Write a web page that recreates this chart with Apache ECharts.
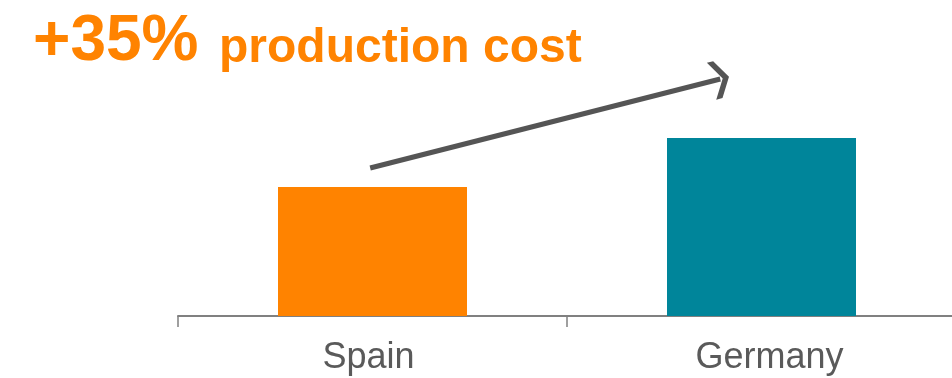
<!DOCTYPE html>
<html>
<head>
<meta charset="utf-8">
<script src="https://cdn.jsdelivr.net/npm/echarts@6/dist/echarts.min.js"></script>
<style>html,body{margin:0;padding:0;background:#fff;}#c{width:952px;height:378px;}</style>
</head>
<body>
<div id="c"></div>
<script>
var categories = ['Spain', 'Germany'];
var costValues = [100, 138];
var barColors = ['#FF8300', '#00859A'];
var headline = '+35%';
var headlineRest = 'production cost';
// arrow annotation (x in category-index units, y in value units)
var arrowStart = [-0.006, 114.7];
var arrowEnd = [0.894, 183.7];

var chart = echarts.init(document.getElementById('c'), null, {renderer: 'canvas'});
var font = '"Liberation Sans", Arial, sans-serif';
var labelRich = {
  a: {fontFamily: font, fontSize: 36, color: '#5a5a5a', padding: [0, 8, 0, 0]},
  b: {fontFamily: font, fontSize: 36, color: '#5a5a5a', padding: [0, 0, 0, 16]}
};
chart.setOption({
  animation: false,
  backgroundColor: '#ffffff',
  title: [
    {text: headline, left: 28, top: 5,
     textStyle: {fontFamily: font, fontSize: 64, fontWeight: 'bold', color: '#FF8300'}},
    {text: headlineRest, left: 214, top: 20,
     textStyle: {fontFamily: font, fontSize: 48, fontWeight: 'bold', color: '#FF8300'}}
  ],
  grid: {left: 178, width: 778, top: 58, bottom: 62, outerBoundsMode: 'none', containLabel: false},
  xAxis: [
    {type: 'category', data: categories,
     axisLine: {lineStyle: {color: '#808080', width: 2}},
     axisTick: {show: true, length: 11, lineStyle: {color: '#808080', width: 1.5}},
     axisLabel: {fontFamily: font, fontSize: 36, color: '#5a5a5a', margin: 24, rich: labelRich,
       formatter: function (v, i) { return '{' + (i === 0 ? 'a' : 'b') + '|' + v + '}'; }}},
    {type: 'value', min: -0.5, max: 1.5, show: false}
  ],
  yAxis: {type: 'value', min: 0, max: 200, show: false, splitLine: {show: false}},
  series: [
    {type: 'bar', xAxisIndex: 0, barWidth: 189,
     data: costValues.map(function (v, i) { return {value: v, itemStyle: {color: barColors[i]}}; })},
    {type: 'line', xAxisIndex: 1, data: [], silent: true,
     markLine: {
       silent: true,
       label: {show: false},
       lineStyle: {color: '#555555', width: 5, type: 'solid'},
       data: [[
         {coord: arrowStart, symbol: 'none', symbolSize: 0},
         {coord: arrowEnd, symbol: 'path://M50,0 L100,32 L100,50 L50,18 L0,50 L0,32 Z', symbolSize: [38, 18]}
       ]]
     }}
  ]
});
</script>
</body>
</html>
